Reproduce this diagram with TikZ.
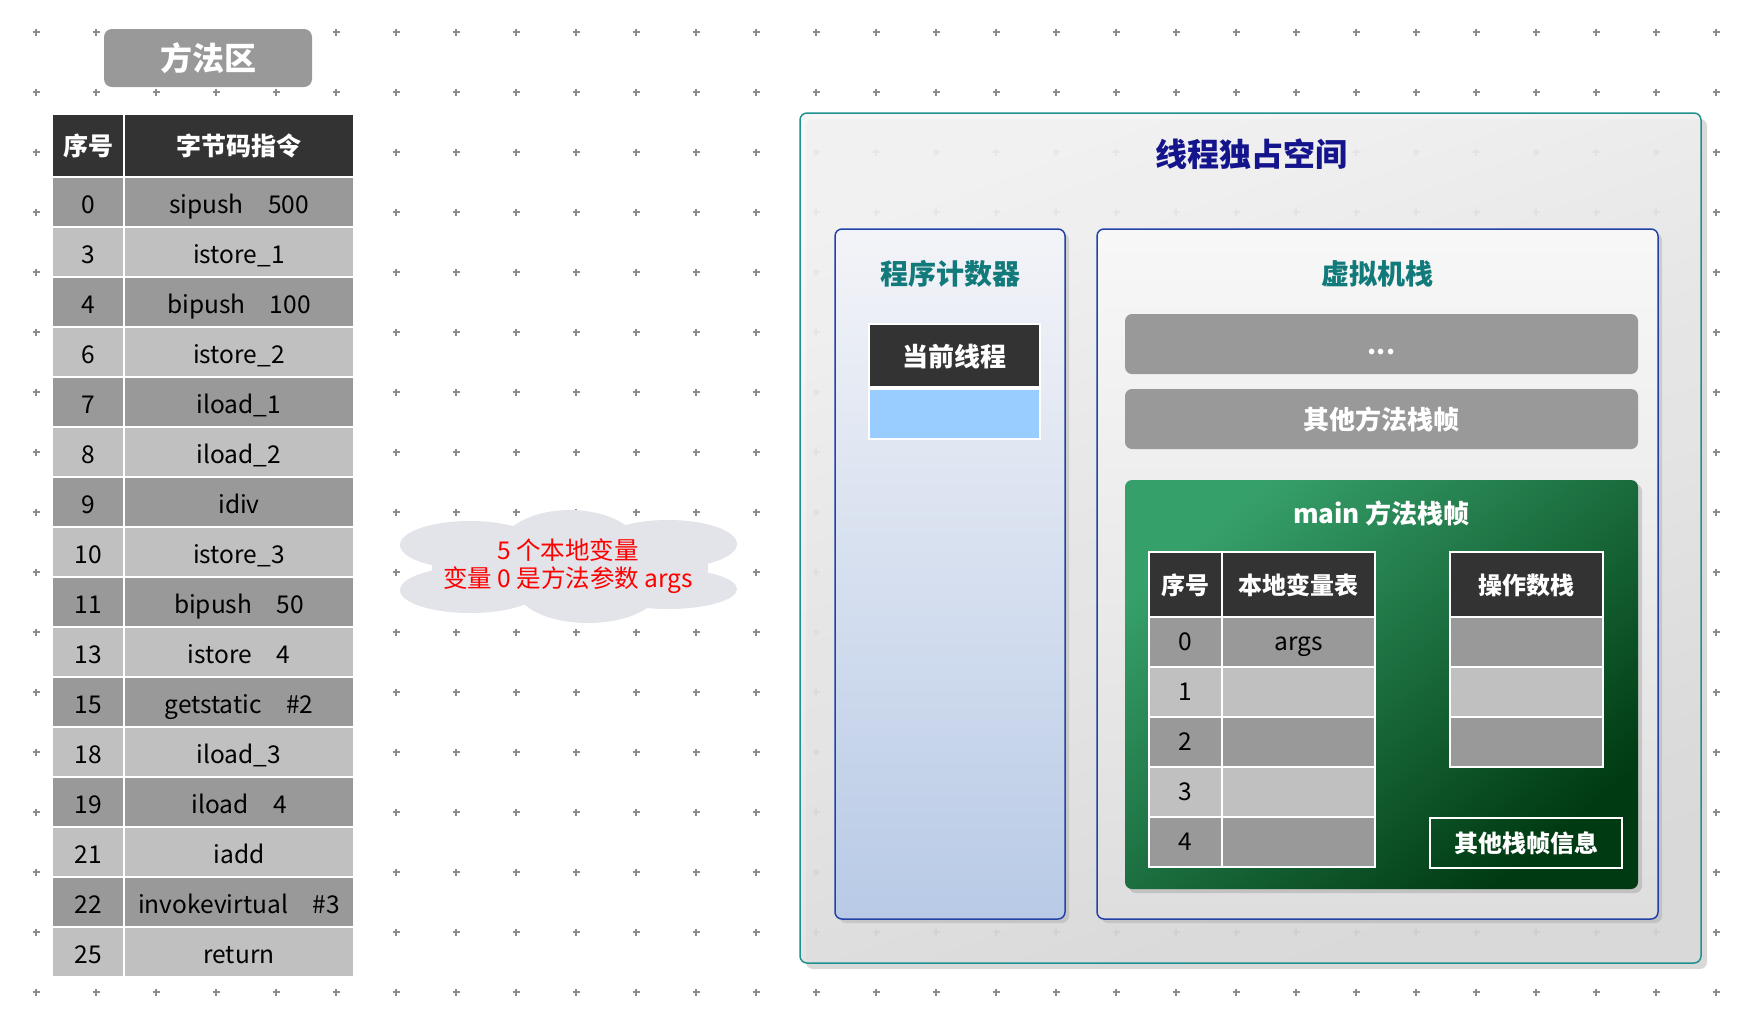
\documentclass[tikz,border=0pt]{standalone}
\usepackage{fontspec}
\setmainfont{Noto Sans CJK SC}
\usetikzlibrary{shadows}
\definecolor{rowdark}{HTML}{999999}
\definecolor{rowlight}{HTML}{C0C0C0}
\definecolor{headdark}{HTML}{333333}
\definecolor{gridgray}{HTML}{8C8C8C}
\definecolor{tealline}{HTML}{1E9090}
\definecolor{tealtext}{HTML}{127A7A}
\definecolor{navytext}{HTML}{14148C}
\definecolor{blueline}{HTML}{2242A8}
\definecolor{pctop}{HTML}{F3F4F8}
\definecolor{pcbottom}{HTML}{B8CAE6}
\definecolor{greenlight}{HTML}{36A06A}
\definecolor{greendark}{HTML}{003A12}
\definecolor{cellblue}{HTML}{99CCFF}
\definecolor{cloudfill}{HTML}{E2E4EA}

\begin{document}
\begin{tikzpicture}[
    x=1pt, y=-1pt,
    cell/.style={rectangle, draw=white, line width=1.5pt, inner sep=0pt, outer sep=0pt, minimum height=50, text height=23pt, text depth=5.6pt, font=\fontsize{24.5}{28}\selectfont},
    insrow/.style={cell, text height=26pt, text depth=3.6pt},
    headcell/.style={cell, fill=headdark, text=white, text height=24pt, text depth=4pt, font=\fontsize{25}{28}\selectfont\bfseries},
    panel/.style={rectangle, rounded corners=7, draw=blueline, line width=1.5pt, inner sep=0pt, outer sep=0pt, drop shadow={opacity=0.25, shadow xshift=4pt, shadow yshift=-4pt}},
    graybar/.style={rectangle, rounded corners=7, fill=rowdark, inner sep=0pt, minimum width=513, minimum height=60, text height=24pt, text depth=4pt, text=white, font=\fontsize{26}{30}\selectfont\bfseries},
    heading/.style={text=tealtext, font=\fontsize{28}{32}\selectfont\bfseries}
]
\useasboundingbox (0,0) rectangle (1742,1026);
% background marks
\foreach \gx in {36,96,...,1716}
  \foreach \gy in {32,92,...,992}
    \draw[gridgray, line width=1.2pt] (\gx-3.5,\gy) -- (\gx+3.5,\gy) (\gx,\gy-3.5) -- (\gx,\gy+3.5);

% method area
\node[rectangle, rounded corners=8, fill=rowdark, minimum width=208, minimum height=58, text=white, font=\fontsize{32}{36}\selectfont\bfseries] (marea) at (208,58) {方法区};
\node[headcell, minimum width=72, minimum height=63] (hidx) at (88,145.5) {序号};
\node[headcell, minimum width=230, minimum height=63] (hins) at (239,145.5) {字节码指令};
\foreach \n/\op [count=\k from 0] in {0/sipush\quad 500, 3/istore\_1, 4/bipush\quad 100, 6/istore\_2, 7/iload\_1, 8/iload\_2, 9/idiv, 10/istore\_3, 11/bipush\quad 50, 13/istore\quad 4, 15/getstatic\quad \#2, 18/iload\_3, 19/iload\quad 4, 21/iadd, 22/invokevirtual\quad \#3, 25/return} {
  \ifodd\k\relax\def\rowcol{rowlight}\else\def\rowcol{rowdark}\fi
  \node[insrow, fill=\rowcol, minimum width=72] (idx\k) at (88,202+50*\k) {\n};
  \node[insrow, fill=\rowcol, minimum width=230] (ins\k) at (239,202+50*\k) {\op};
}

% note cloud
\fill[cloudfill] (470,545) ellipse [x radius=70, y radius=24];
\fill[cloudfill] (470,590) ellipse [x radius=70, y radius=23];
\fill[cloudfill] (668,544) ellipse [x radius=69, y radius=24];
\fill[cloudfill] (668,589) ellipse [x radius=69, y radius=20];
\fill[cloudfill] (570,549) ellipse [x radius=70, y radius=39];
\fill[cloudfill] (588,588) ellipse [x radius=72, y radius=35];
\fill[cloudfill] (432,542) rectangle (708,596);
\node[text=red, align=center, font=\fontsize{24.5}{28}\selectfont] (note) at (568,566) {5 个本地变量\\变量 0 是方法参数 args};

% thread space
\node[rectangle, rounded corners=7, draw=tealline, line width=1.5pt, top color=white!96!black, bottom color=white!85!black, shading angle=20, fill opacity=0.88, minimum width=901, minimum height=850, inner sep=0pt, drop shadow={opacity=0.3, shadow xshift=6pt, shadow yshift=-6pt}] (thread) at (1250.5,538) {};
\node[text=navytext, font=\fontsize{32}{36}\selectfont\bfseries] (ttitle) at (1251,154) {线程独占空间};

% program counter
\node[panel, top color=pctop, bottom color=pcbottom, minimum width=230, minimum height=690] (pc) at (950,574) {};
\node[heading] (pctitle) at (950,274) {程序计数器};
\node[cell, fill=headdark, text=white, text height=26pt, text depth=4pt, font=\fontsize{26}{30}\selectfont\bfseries, minimum width=171, minimum height=63] (cur) at (954.5,355.5) {当前线程};
\node[cell, fill=cellblue, minimum width=171, minimum height=50] (curval) at (954.5,414) {};

% vm stack
\node[panel, top color=white!97!black, bottom color=white!87!black, minimum width=561, minimum height=690] (vms) at (1377.5,574) {};
\node[heading] (vmtitle) at (1377.5,274) {虚拟机栈};
\node[graybar] (dots) at (1381.5,344) {...};
\node[graybar] (oframe) at (1381.5,419) {其他方法栈帧};

% main frame
\node[rectangle, rounded corners=7, top color=greenlight, bottom color=greendark, shading angle=40, minimum width=513, minimum height=409, inner sep=0pt, drop shadow={opacity=0.3, shadow xshift=4pt, shadow yshift=-4pt}] (mframe) at (1381.5,684.5) {};
\node[text=white, font=\fontsize{26}{30}\selectfont\bfseries] (mtitle) at (1381.5,513) {main 方法栈帧};
\node[headcell, minimum width=73, minimum height=65, font=\fontsize{24}{28}\selectfont\bfseries] (lidx) at (1185.5,584.5) {序号};
\node[headcell, minimum width=153, minimum height=65, font=\fontsize{24}{28}\selectfont\bfseries] (lvar) at (1298.5,584.5) {本地变量表};
\foreach \n/\v [count=\k from 0] in {0/args, 1/, 2/, 3/, 4/} {
  \ifodd\k\relax\def\rowcol{rowlight}\else\def\rowcol{rowdark}\fi
  \node[cell, fill=\rowcol, minimum width=73] (li\k) at (1185.5,642+50*\k) {\n};
  \node[cell, fill=\rowcol, minimum width=153] (lv\k) at (1298.5,642+50*\k) {\v};
}
\node[headcell, minimum width=153, minimum height=65, font=\fontsize{24}{28}\selectfont\bfseries] (ops) at (1526.5,584.5) {操作数栈};
\foreach \k in {0,1,2} {
  \ifodd\k\relax\def\rowcol{rowlight}\else\def\rowcol{rowdark}\fi
  \node[cell, fill=\rowcol, minimum width=153] (op\k) at (1526.5,642+50*\k) {};
}
\node[rectangle, draw=white, line width=1.5pt, minimum width=192, minimum height=50, inner sep=0pt, text height=22.5pt, text depth=4.3pt, text=white, font=\fontsize{24}{28}\selectfont\bfseries] (oinfo) at (1526,843) {其他栈帧信息};
\end{tikzpicture}
\end{document}
